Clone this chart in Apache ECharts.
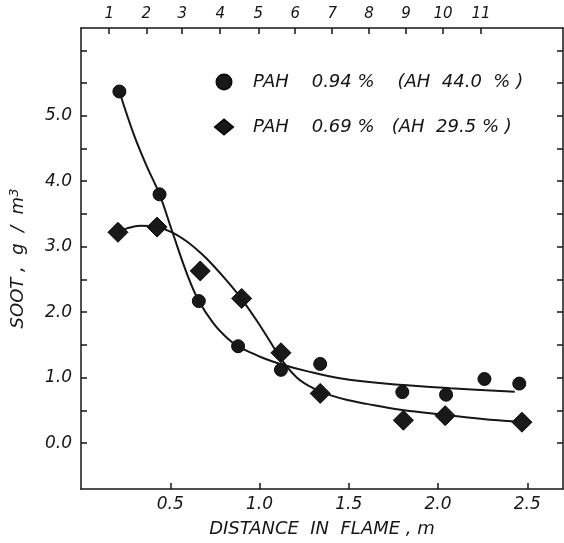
<!DOCTYPE html>
<html>
<head>
<meta charset="utf-8">
<script src="https://cdn.jsdelivr.net/npm/echarts@6/dist/echarts.min.js"></script>
<style>
  html, body { margin: 0; padding: 0; background: #ffffff; }
  #chart { width: 564px; height: 543px; }
</style>
</head>
<body>
<div id="chart"></div>
<script>
// measured points, distance in flame (m) / soot (g/m3)
const pah094Points = [
    [0.215, 5.37], [0.44, 3.80], [0.66, 2.17], [0.88, 1.48], [1.12, 1.12],
    [1.34, 1.21], [1.80, 0.78], [2.045, 0.74], [2.26, 0.98], [2.455, 0.91],
]
const pah069Points = [
    [0.207, 3.22], [0.426, 3.30], [0.668, 2.63], [0.90, 2.21], [1.12, 1.38],
    [1.34, 0.76], [1.806, 0.35], [2.04, 0.42], [2.47, 0.32],
]

// hand drawn fit curves
const pah094Curve = [
    [0.215, 5.37], [0.295, 4.72], [0.37, 4.22], [0.44, 3.80], [0.51, 3.24],
    [0.60, 2.54], [0.66, 2.17], [0.742, 1.83], [0.817, 1.61], [0.882, 1.47],
    [0.93, 1.41], [1.02, 1.30], [1.116, 1.21], [1.265, 1.10], [1.45, 0.99],
    [1.70, 0.91], [2.07, 0.84], [2.43, 0.785],
]
const pah069Curve = [
    [0.207, 3.22], [0.258, 3.28], [0.332, 3.32], [0.426, 3.30], [0.51, 3.22],
    [0.593, 3.08], [0.668, 2.91], [0.742, 2.71], [0.82, 2.47], [0.90, 2.20],
    [0.985, 1.87], [1.06, 1.55], [1.125, 1.27], [1.21, 1.00], [1.30, 0.84],
    [1.40, 0.73], [1.50, 0.655], [1.60, 0.60], [1.79, 0.51], [2.04, 0.43],
    [2.25, 0.37], [2.44, 0.33],
]

const legendNames = ['PAH    0.94 %    (AH  44.0  % )', 'PAH    0.69 %   (AH  29.5 % )']
const xTickValues = [0.5, 1.0, 1.5, 2.0, 2.5]
const yTickValues = [0, 0.5, 1, 1.5, 2, 2.5, 3, 3.5, 4, 4.5, 5, 5.5, 6]
const yLabelValues = [0, 1, 2, 3, 4, 5]
// sampling point numbers along the top edge and where they sit (m)
const topTickLabels = ['1', '2', '3', '4', '5', '6', '7', '8', '9', '10', '11']
const topTickValues = [0.158, 0.366, 0.567, 0.780, 0.993, 1.200, 1.407, 1.614, 1.821, 2.028, 2.241]

const ink = '#161616'
const fontFamily = 'DejaVu Sans'
const labelStyle = { color: ink, fontSize: 17, fontStyle: 'italic', fontFamily }
const frameLine = { show: true, onZero: false, lineStyle: { color: ink, width: 1.5 } }
const tickLine = { color: ink, width: 1.5 }
const markStyle = { color: '#191919', borderColor: '#0a0a0a', borderWidth: 1, opacity: 1 }

const chart = echarts.init(document.getElementById('chart'))

chart.setOption({
    backgroundColor: '#ffffff',
    animation: false,
    grid: { left: 80.7, right: 1, top: 28, bottom: 49 },
    legend: {
        orient: 'vertical',
        left: 209,
        top: 68,
        itemWidth: 18,
        itemHeight: 15,
        itemGap: 27,
        textStyle: { ...labelStyle, fontSize: 18, padding: [0, 0, 0, 15] },
        data: [
            { name: legendNames[0], icon: 'circle' },
            { name: legendNames[1], icon: 'diamond' },
        ],
    },
    xAxis: [
        {
            type: 'value',
            min: 0,
            max: 2.7,
            name: 'DISTANCE  IN  FLAME , m',
            nameLocation: 'middle',
            nameGap: 31,
            nameTextStyle: { ...labelStyle, fontSize: 18 },
            axisLine: frameLine,
            axisTick: { inside: true, length: 6, customValues: xTickValues, lineStyle: tickLine },
            axisLabel: { ...labelStyle, margin: 7, customValues: xTickValues, formatter: v => v.toFixed(1) },
            splitLine: { show: false },
        },
        {
            type: 'value',
            position: 'top',
            min: 0,
            max: 2.7,
            axisLine: frameLine,
            axisTick: { inside: true, length: 6, customValues: topTickValues, lineStyle: tickLine },
            axisLabel: {
                ...labelStyle,
                fontSize: 15,
                margin: 6,
                customValues: topTickValues,
                formatter: v => topTickLabels[topTickValues.indexOf(v)] ?? '',
            },
            splitLine: { show: false },
        },
    ],
    yAxis: [
        {
            type: 'value',
            min: -0.7,
            max: 6.34,
            name: 'SOOT ,  g  /  m{sup|3}',
            nameLocation: 'middle',
            nameGap: 52,
            nameTextStyle: {
                ...labelStyle,
                fontSize: 18,
                rich: { sup: { ...labelStyle, fontSize: 13, verticalAlign: 'top', padding: [0, 0, 8, 0] } },
            },
            axisLine: frameLine,
            axisTick: { inside: true, length: 6, customValues: yTickValues, lineStyle: tickLine },
            axisLabel: { ...labelStyle, margin: 9, customValues: yLabelValues, formatter: v => v.toFixed(1) },
            splitLine: { show: false },
        },
        {
            type: 'value',
            position: 'right',
            min: -0.7,
            max: 6.34,
            axisLine: frameLine,
            axisTick: { inside: true, length: 6, customValues: yTickValues, lineStyle: tickLine },
            axisLabel: { show: false },
            splitLine: { show: false },
        },
    ],
    series: [
        {
            type: 'line',
            smooth: 0.4,
            showSymbol: false,
            silent: true,
            lineStyle: { color: ink, width: 2 },
            data: pah094Curve,
        },
        {
            type: 'line',
            smooth: 0.4,
            showSymbol: false,
            silent: true,
            lineStyle: { color: ink, width: 2 },
            data: pah069Curve,
        },
        {
            name: legendNames[0],
            type: 'scatter',
            symbol: 'circle',
            symbolSize: 13,
            itemStyle: markStyle,
            data: pah094Points,
        },
        {
            name: legendNames[1],
            type: 'scatter',
            symbol: 'diamond',
            symbolSize: 20,
            itemStyle: markStyle,
            data: pah069Points,
        },
    ],
})
</script>
</body>
</html>
